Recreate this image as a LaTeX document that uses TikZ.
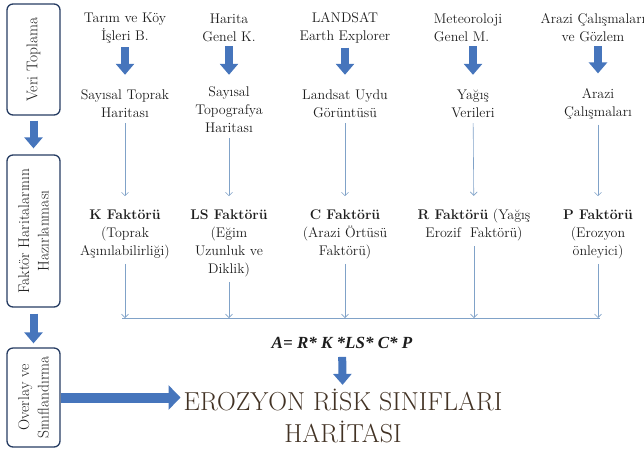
\documentclass[tikz,border=0pt]{standalone}
\usepackage{fontspec}
\newfontfamily\formulafont{Liberation Serif}
\usetikzlibrary{arrows.meta,positioning}
\definecolor{blockblue}{RGB}{70,117,188}
\definecolor{boxnavy}{RGB}{38,60,98}
\definecolor{thinblue}{RGB}{128,162,200}
\definecolor{titlebrown}{RGB}{66,50,36}
\definecolor{inkgrey}{RGB}{30,30,30}
\tikzset{
    txt/.style={align=center, text=inkgrey, font=\fontsize{14}{18}\selectfont, inner sep=1pt},
    stagebox/.style={draw=boxnavy, line width=1.3pt, rounded corners=6pt, rotate=90, align=center, text=inkgrey, font=\fontsize{15.5}{19.5}\selectfont, minimum height=53pt, inner sep=2pt},
    blockarrow/.style={draw=blockblue, line width=8pt, -{Triangle[width=18pt,length=11pt]}},
    widearrow/.style={draw=blockblue, line width=10pt, -{Triangle[width=24pt,length=12pt]}},
    thinarrow/.style={draw=thinblue, line width=0.6pt, -{Straight Barb[length=3.5pt,width=7pt]}},
    thinline/.style={draw=thinblue, line width=0.8pt},
}
\begin{document}
\begin{tikzpicture}[x=1pt, y=-1pt]
    \useasboundingbox (0,0) rectangle (644,451);
    %% stage boxes
    \node[stagebox, minimum width=111pt] (box1) at (33.5,59.5) {Veri Toplama};
    \node[stagebox, minimum width=152pt] (box2) at (33.5,231) {Faktör Haritalarının\\Hazırlanması};
    \node[stagebox, minimum width=99pt] (box3) at (33.5,397.5) {Overlay ve\\Sınıflandırma};
    \draw[blockarrow, shorten <=5pt, shorten >=6pt] (box1) -- (box2);
    \draw[blockarrow, shorten <=6pt, shorten >=4pt] (box2) -- (box3);

    %% data sources
    \node[txt] (src1) at (125,28) {Tarım ve Köy\\İşleri B.};
    \node[txt] (src2) at (229,28) {Harita\\Genel K.};
    \node[txt] (src3) at (345,28) {LANDSAT\\Earth Explorer};
    \node[txt, align=left] (src4) at (468,28) {Meteoroloji\\Genel M.};
    \node[txt] (src5) at (593,28) {Arazi Çalışmaları\\ve Gözlem};

    %% data
    \node[txt] (dat1) at (125,104) {Sayısal Toprak\\Haritası};
    \node[txt] (dat2) at (229,110) {Sayısal\\Topografya\\Haritası};
    \node[txt] (dat3) at (345,104) {Landsat Uydu\\Görüntüsü};
    \node[txt] (dat4) at (473,104) {Yağış\\Verileri};
    \node[txt] (dat5) at (598,104) {Arazi\\Çalışmaları};

    \draw[blockarrow, shorten <=3pt, shorten >=14pt] (src1) -- (dat1);
    \draw[blockarrow, shorten <=3pt, shorten >=11pt] (src2) -- (dat2);
    \draw[blockarrow, shorten <=3pt, shorten >=14pt] (src3) -- (dat3);
    \draw[blockarrow, shorten <=3pt, shorten >=14pt] (src4.south -| dat4) -- (dat4);
    \draw[blockarrow, shorten <=3pt, shorten >=14pt] (src5.south -| dat5) -- (dat5);

    %% factors
    \node[txt] (fac1) at (125,234) {\textbf{K Faktörü}\\(Toprak\\Aşınılabilirliği)};
    \node[txt] (fac2) at (229,243) {\textbf{LS Faktörü}\\(Eğim\\Uzunluk ve\\Diklik)};
    \node[txt] (fac3) at (345,234) {\textbf{C Faktörü}\\(Arazi Örtüsü\\Faktörü)};
    \node[txt] (fac4) at (474,225) {\textbf{R Faktörü} (Yağış\\Erozif\ \ Faktörü)};
    \node[txt] (fac5) at (598,234) {\textbf{P Faktörü}\\(Erozyon\\önleyici)};

    \foreach \i in {1,...,5}
        \draw[thinarrow, shorten <=4pt, shorten >=12pt] (dat\i) -- (fac\i);

    %% collecting line
    \coordinate (busL) at (122,318);
    \coordinate (busR) at (600,318);
    \draw[thinline] (busL) -- (busR);
    \foreach \i in {1,...,5}
        \draw[thinarrow, shorten <=4pt] (fac\i.south) -- (fac\i.south |- busL);

    %% result
    \node[txt, font=\formulafont\fontsize{17}{20}\selectfont\bfseries\itshape] (usle) at (342,343) {A= R* K *LS* C* P};
    \node[txt, text=titlebrown, font=\fontsize{26}{32}\selectfont] (title) at (343,416) {EROZYON RİSK SINIFLARI\\HARİTASI};
    \draw[blockarrow, shorten <=7pt, shorten >=3pt] (usle) -- (title);
    \draw[widearrow, shorten >=2pt] (box3.south) -- (box3.south -| title.west);
\end{tikzpicture}
\end{document}
